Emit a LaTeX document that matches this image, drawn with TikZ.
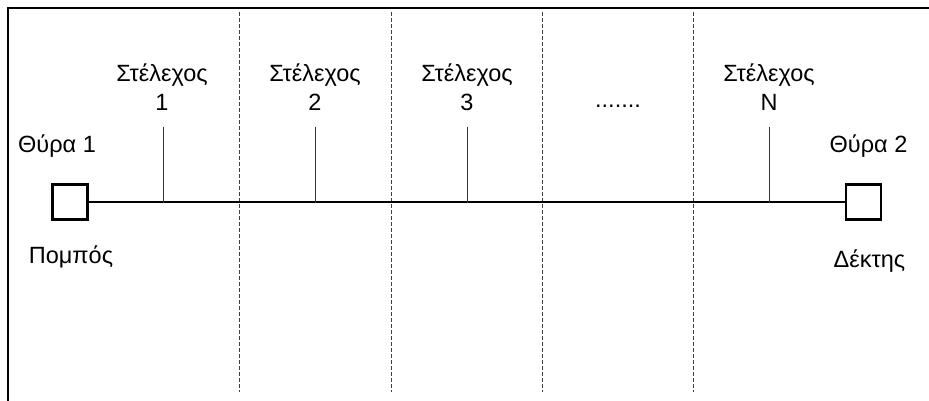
\documentclass[tikz,border=0pt]{standalone}
\usepackage{fontspec}
\setmainfont{Liberation Sans}
\begin{document}
\begin{tikzpicture}[x=1pt,y=1pt,
  lbl/.style={inner sep=0pt,font=\fontsize{23.5}{29}\selectfont,align=center,anchor=base},
  port/.style={draw,line width=2.4pt,minimum size=35pt,inner sep=0pt},
  stub/.style={draw=black!80,line width=0.9pt},
  sep/.style={draw=black!75,line width=0.9pt,dash pattern=on 4pt off 2pt},
  frame/.style={draw,line width=2pt}]
\useasboundingbox (0,0) rectangle (929,401);
% frame
\coordinate (fb) at (8,0);
\coordinate (ftl) at (8,392.5);
\coordinate (ftr) at (929,392.5);
\draw[frame] (fb) -- (ftl) -- (ftr);
% separators
\foreach \i/\x in {1/239,2/391,3/542,4/693}{
  \coordinate (st\i) at (\x,389);
  \coordinate (sb\i) at (\x,9);
  \draw[sep] (st\i) -- (sb\i);
}
% ports
\node[port] (p1) at (70,199) {};
\node[port] (p2) at (863.5,199) {};
\draw[line width=2.6pt] (p1.east) -- (p2.west);
% stubs
\foreach \i/\x in {1/163,2/315,3/467,4/769}{
  \coordinate (tt\i) at (\x,274);
  \coordinate (tb\i) at (\x,198);
  \draw[stub] (tt\i) -- (tb\i);
}
% labels
\node[lbl] (l1) at (162,290) {Στέλεχος\\1};
\node[lbl] (l2) at (315,290) {Στέλεχος\\2};
\node[lbl] (l3) at (467,290) {Στέλεχος\\3};
\node[lbl] (ld) at (618,293) {.......};
\node[lbl] (lN) at (769,290) {Στέλεχος\\N};
\node[lbl] (t1) at (57,248) {Θύρα 1};
\node[lbl] (t2) at (868.5,248) {Θύρα 2};
\node[lbl] (tx) at (71,137) {Πομπός};
\node[lbl] (rx) at (869.5,133) {Δέκτης};
\end{tikzpicture}
\end{document}
